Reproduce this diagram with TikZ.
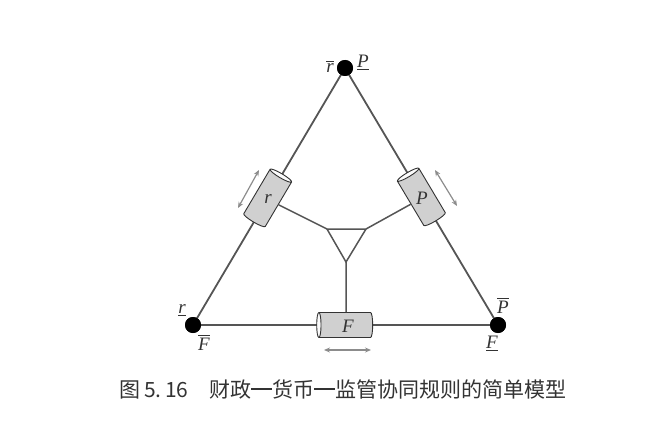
\documentclass[tikz,border=0pt]{standalone}
\usepackage{fontspec}
\newfontfamily\cjk{Noto Sans CJK SC}
\newfontfamily\labfont{Liberation Serif}
\definecolor{cEdge}{HTML}{555555}
\definecolor{cInk}{HTML}{333333}
\definecolor{cBody}{HTML}{D0D0D0}
\definecolor{cArr}{HTML}{8C8C8C}
\usetikzlibrary{positioning,arrows.meta,shapes.geometric}
\newcommand{\cdash}{\rule[0.33em]{1em}{0.09em}}
\newcommand{\ovl}[1]{\vbox{\hrule height 0.06em\kern0.1em\hbox{#1}}}
\newcommand{\unl}[1]{\vtop{\hbox{#1}\kern0.12em\hrule height 0.06em}}

\begin{document}
\begin{tikzpicture}[x=1pt,y=-1pt,
      dot/.style={circle,fill=black,inner sep=0pt,minimum size=16pt},
      edge/.style={draw=cEdge,line width=1.8pt},
      cyl/.style={cylinder,draw=cInk,line width=0.9pt,minimum width=25pt,minimum height=56pt,
                  aspect=0.35,inner sep=0pt,cylinder uses custom fill,
                  cylinder body fill=cBody,cylinder end fill=white!92!cBody,
                  font=\labfont\fontsize{19}{21}\selectfont},
      lab/.style={font=\labfont\itshape\fontsize{19}{21}\selectfont,text=cInk,inner sep=0pt,anchor=base},
      dbl/.style={{Stealth[length=6pt,width=5pt]}-{Stealth[length=6pt,width=5pt]},draw=cArr,line width=1.2pt},
      captxt/.style={font=\cjk\fontsize{21}{24}\selectfont,text=cInk}]
    \useasboundingbox (0,0) rectangle (672,428);
    % outer triangle
    \node[dot] (top) at (345,68) {};
    \node[dot] (bl) at (193,325) {};
    \node[dot] (br) at (498,325) {};
    \draw[edge] (top.center) -- (bl.center) -- (br.center) -- cycle;
    \node[dot] at (top) {};
    \node[dot] at (bl) {};
    \node[dot] at (br) {};
    % inner triangle
    \coordinate (tl) at (327,229);
    \coordinate (tr) at (366,229);
    \coordinate (tb) at (346,262);
    \draw[edge,line width=1.5pt] (tl) -- (tr) -- (tb) -- cycle;
    % cylinders
    \node[cyl,rotate=59.4] (cr) at (267,199) {\phantom{P}};
    \node[cyl,rotate=-59.2,shape border rotate=180] (cp) at (422,198) {\phantom{P}};
    \node[cyl,shape border rotate=180] (cf) at (346,325) {\phantom{P}};
    \node[lab,anchor=center] (tr1) at ([shift={(1,0)}]cr) {r};
    \node[lab,anchor=center] (tp1) at ([shift={(0,0)}]cp) {P};
    \node[lab,anchor=center] (tf1) at ([shift={(2,1)}]cf) {F};
    \draw[edge,line width=1.5pt] (cr) -- (tl);
    \draw[edge,line width=1.5pt] (cp) -- (tr);
    \draw[edge,line width=1.5pt] (tb) -- (cf);
    % moves
    \coordinate (ra) at (238,208);
    \coordinate (rb) at (259,170);
    \coordinate (pa) at (435,170);
    \coordinate (pb) at (457,206);
    \coordinate (fa) at (324,350);
    \coordinate (fb) at (371,350);
    \draw[dbl] (ra) -- (rb);
    \draw[dbl] (pa) -- (pb);
    \draw[dbl] (fa) -- (fb);
    % labels
    \node[lab] (ltr) at ([shift={(-15,5)}]top) {\ovl{r}};
    \node[lab] (ltp) at ([shift={(18,-1)}]top) {\unl{P}};
    \node[lab] (lbr) at ([shift={(-11,-12)}]bl) {\unl{r}};
    \node[lab] (lbf) at ([shift={(11,25)}]bl) {\ovl{F}};
    \node[lab] (lrp) at ([shift={(5,-12)}]br) {\ovl{P}};
    \node[lab] (lrf) at ([shift={(-6,23)}]br) {\unl{F}};
    % caption
    \node[captxt] (capt) at (343,389) {图\,5.\,16\quad 财政\cdash 货币\cdash 监管协同规则的简单模型};
\end{tikzpicture}
\end{document}
